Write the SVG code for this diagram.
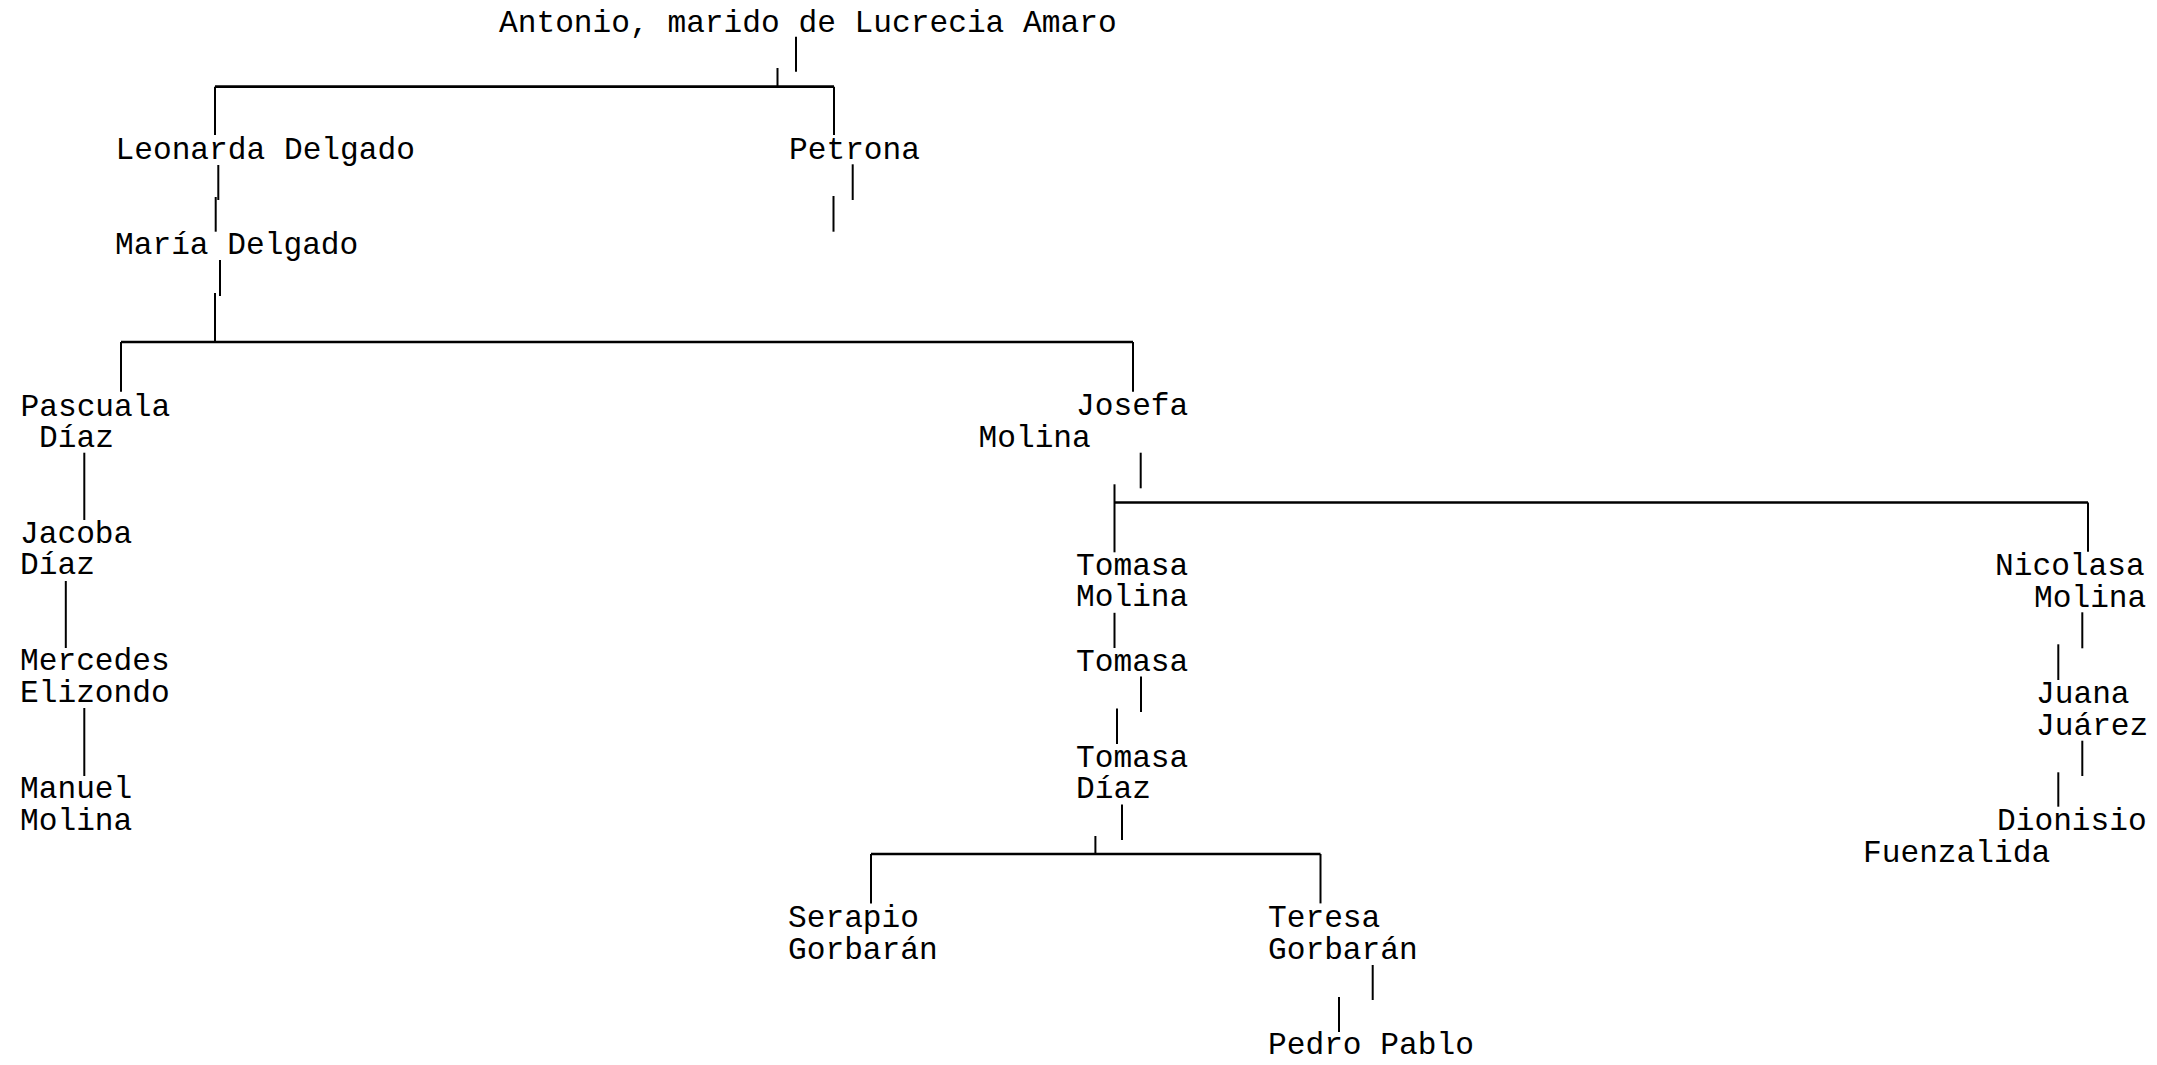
<svg xmlns="http://www.w3.org/2000/svg" width="2157" height="1065" viewBox="0 0 2157 1065">
<style>
  text { font-family: "Courier New", "Liberation Mono", monospace; font-size: 31.2px; fill: #000; }
  .v { stroke: #000; stroke-width: 2; fill: none; }
  .h { stroke: #000; stroke-width: 2.7; fill: none; }
</style>
<rect width="2157" height="1065" fill="#fff"/>
<g id="connectors">
  <line class="v" x1="796" y1="36.7" x2="796" y2="71.7"/>
  <line class="v" x1="777.5" y1="68" x2="777.5" y2="87"/>
  <line class="h" x1="215" y1="86.7" x2="834" y2="86.7"/>
  <line class="v" x1="215" y1="86.7" x2="215" y2="135"/>
  <line class="v" x1="834" y1="86.7" x2="834" y2="135"/>
  <line class="v" x1="218.3" y1="165" x2="218.3" y2="200"/>
  <line class="v" x1="215.7" y1="197" x2="215.7" y2="231.7"/>
  <line class="v" x1="852.7" y1="164.3" x2="852.7" y2="200"/>
  <line class="v" x1="833.5" y1="196" x2="833.5" y2="231.7"/>
  <line class="v" x1="220" y1="260" x2="220" y2="296"/>
  <line class="v" x1="215" y1="293" x2="215" y2="342"/>
  <line class="h" x1="121" y1="342" x2="1133" y2="342"/>
  <line class="v" x1="121" y1="342" x2="121" y2="391.7"/>
  <line class="v" x1="1133" y1="342" x2="1133" y2="391.7"/>
  <line class="v" x1="84.3" y1="452.7" x2="84.3" y2="520"/>
  <line class="v" x1="65.8" y1="581" x2="65.8" y2="648"/>
  <line class="v" x1="84.3" y1="708" x2="84.3" y2="776"/>
  <line class="v" x1="1140.7" y1="452.7" x2="1140.7" y2="488.3"/>
  <line class="v" x1="1114.5" y1="484.3" x2="1114.5" y2="552.3"/>
  <line class="h" x1="1114.5" y1="502.5" x2="2088" y2="502.5"/>
  <line class="v" x1="2088" y1="502.5" x2="2088" y2="551.7"/>
  <line class="v" x1="1114.5" y1="612.8" x2="1114.5" y2="648"/>
  <line class="v" x1="1141" y1="676.5" x2="1141" y2="712"/>
  <line class="v" x1="1117" y1="708.5" x2="1117" y2="744"/>
  <line class="v" x1="1122" y1="804.6" x2="1122" y2="840"/>
  <line class="v" x1="1095.4" y1="836" x2="1095.4" y2="854"/>
  <line class="h" x1="871" y1="854" x2="1320.5" y2="854"/>
  <line class="v" x1="871" y1="854" x2="871" y2="903.4"/>
  <line class="v" x1="1320.5" y1="854" x2="1320.5" y2="903.4"/>
  <line class="v" x1="1372.7" y1="965" x2="1372.7" y2="1000"/>
  <line class="v" x1="1339" y1="997" x2="1339" y2="1032"/>
  <line class="v" x1="2082.3" y1="612.3" x2="2082.3" y2="648.3"/>
  <line class="v" x1="2058.3" y1="644.3" x2="2058.3" y2="680"/>
  <line class="v" x1="2082.3" y1="740.7" x2="2082.3" y2="776"/>
  <line class="v" x1="2058.3" y1="772.3" x2="2058.3" y2="806.7"/>
</g>
<g id="antonio"><text x="499" y="31.7">Antonio, marido de Lucrecia Amaro</text></g>
<g id="leonarda"><text x="115.5" y="159">Leonarda Delgado</text></g>
<g id="petrona"><text x="789" y="159">Petrona</text></g>
<g id="maria"><text x="115" y="254">María Delgado</text></g>
<g id="pascuala"><text x="20.5" y="415.7">Pascuala</text><text x="39" y="446.7">Díaz</text></g>
<g id="josefa"><text x="1076" y="415">Josefa</text><text x="978.5" y="446.7">Molina</text></g>
<g id="jacoba"><text x="20" y="542.7">Jacoba</text><text x="20" y="574.3">Díaz</text></g>
<g id="mercedes"><text x="20" y="670">Mercedes</text><text x="20" y="702.3">Elizondo</text></g>
<g id="manuel"><text x="20" y="798.3">Manuel</text><text x="20" y="830">Molina</text></g>
<g id="tomasa-molina"><text x="1076" y="575">Tomasa</text><text x="1076" y="606">Molina</text></g>
<g id="tomasa"><text x="1076" y="670.5">Tomasa</text></g>
<g id="tomasa-diaz"><text x="1076" y="766.5">Tomasa</text><text x="1076" y="797.6">Díaz</text></g>
<g id="serapio"><text x="788" y="926.5">Serapio</text><text x="788" y="959">Gorbarán</text></g>
<g id="teresa"><text x="1268" y="926.7">Teresa</text><text x="1268" y="959">Gorbarán</text></g>
<g id="pedro"><text x="1268" y="1054">Pedro Pablo</text></g>
<g id="nicolasa"><text x="1995" y="575">Nicolasa</text><text x="2034" y="606.7">Molina</text></g>
<g id="juana"><text x="2036" y="703.3">Juana</text><text x="2036" y="735">Juárez</text></g>
<g id="dionisio"><text x="1997" y="830">Dionisio</text><text x="1863" y="861.7">Fuenzalida</text></g>
</svg>
